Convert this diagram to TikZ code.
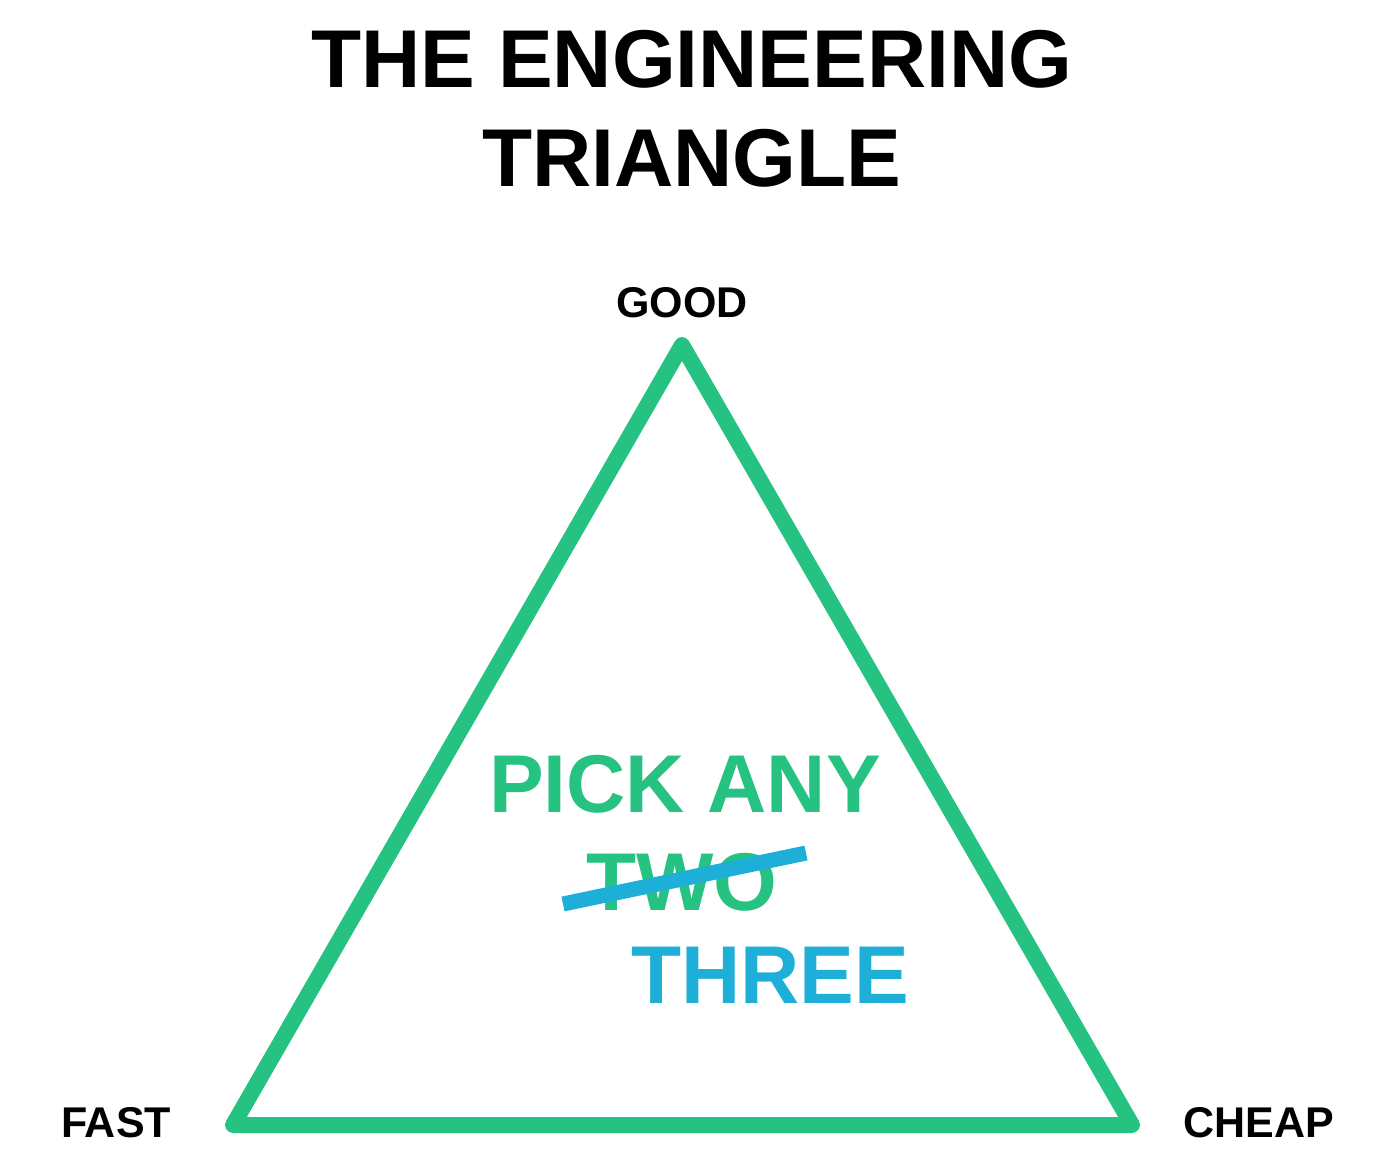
\documentclass[tikz,border=0pt]{standalone}
\usepackage{fontspec}
\setmainfont{Liberation Sans}
\definecolor{tgreen}{HTML}{25C281}
\definecolor{tblue}{HTML}{1EAFD8}
\begin{document}
\begin{tikzpicture}[x=1pt,y=-1pt,
  big/.style={font=\bfseries\fontsize{82}{82}\selectfont, inner sep=0pt, anchor=base},
  corner/.style={font=\bfseries\fontsize{43}{43}\selectfont, inner sep=0pt, anchor=base, text=black},
  edge/.style={draw=tgreen, line width=16pt, line join=round, line cap=round}]
\useasboundingbox[fill=white] (0,0) rectangle (1392,1166);
\node[big] (t1) at (692,88) {THE ENGINEERING};
\node[big] (t2) at (692,187) {TRIANGLE};
\coordinate (A) at (682,345);
\coordinate (B) at (233,1125);
\coordinate (C) at (1132,1125);
\draw[edge] (A) -- (B) -- (C) -- cycle;
\node[corner] (good) at (682,317) {GOOD};
\node[corner] (fast) at (116,1137) {FAST};
\node[corner] (cheap) at (1259,1137) {CHEAP};
\node[big, text=tgreen] (pick) at (685,812) {PICK ANY};
\node[big, text=tgreen] (two) at (682,910) {TWO};
\node[big, text=tblue] (three) at (770,1003) {THREE};
\coordinate (s1) at (563,904);
\coordinate (s2) at (806,853);
\draw[tblue, line width=15pt] (s1) -- (s2);
\end{tikzpicture}
\end{document}
